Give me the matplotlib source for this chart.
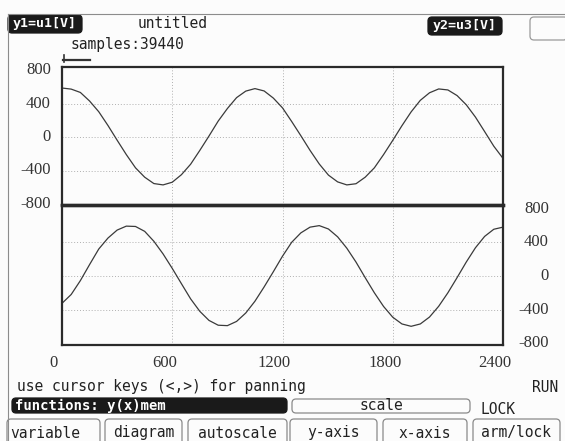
import matplotlib
matplotlib.use("Agg")
import matplotlib.pyplot as plt
from matplotlib.patches import FancyBboxPatch
from matplotlib.transforms import ScaledTranslation

W, H = 565, 441

# samples, one every 50 units on x
t = list(range(0, 2401, 50))
u1 = [585, 572, 532, 430, 302, 138, -38, -210, -368, -480, -556, -572, -540,
      -450, -325, -160, 12, 190, 340, 470, 548, 578, 550, 465, 348, 185, 15,
      -160, -322, -455, -536, -572, -558, -480, -368, -210, -40, 135, 300,
      438, 528, 574, 562, 495, 385, 238, 65, -110, -255]
u3 = [-325, -220, -55, 135, 320, 450, 545, 592, 588, 530, 412, 262, 90, -92,
      -272, -420, -528, -585, -590, -540, -440, -300, -130, 50, 235, 400, 512,
      580, 598, 558, 465, 330, 165, -20, -200, -362, -490, -570, -598, -570,
      -488, -360, -200, -20, 165, 335, 470, 555, 580]

x_ticks = [0, 600, 1200, 1800, 2400]
y_ticks = [-800, -400, 0, 400, 800]

title = "untitled"
samples = "samples:39440"
status = "use cursor keys (<,>) for panning"
buttons = ["variable", "diagram", "autoscale", "y-axis", "x-axis", "arm/lock"]

MONO = "DejaVu Sans Mono"
SERIF = "Liberation Serif"
INK = "#222222"
TRACE = "#3a3a3a"

fig = plt.figure(figsize=(W / 100, H / 100), dpi=100, facecolor="#fcfcfc")

# screen overlay in pixel coordinates
ui = fig.add_axes([0, 0, 1, 1], zorder=0)
ui.set_xlim(0, W)
ui.set_ylim(H, 0)
ui.axis("off")


def box(x0, y0, x1, y1, fill=None, edge="#8a8a8a", r=4):
    p = FancyBboxPatch((x0, y0), x1 - x0, y1 - y0,
                       boxstyle=f"round,pad=0,rounding_size={r}",
                       fc=fill if fill else "none",
                       ec=fill if fill else edge, lw=0.9)
    ui.add_patch(p)


def txt(x, y, s, ha="left", color=INK, size=10.5, **kw):
    ui.text(x, y, s, ha=ha, va="center", color=color, fontsize=size,
            family=MONO, **kw)


# screen border lines
ui.plot([7.5, W], [13.5, 13.5], color="#8c8c8c", lw=0.8)
ui.plot([7.5, 7.5], [13.5, H], color="#8c8c8c", lw=0.8)

# header
box(8, 15, 82, 33, fill="#1a1a1a")
txt(45, 24, "y1=u1[V]", ha="center", color="white", weight="bold", size=9.5)
txt(173, 24, title, ha="center")
box(428, 17, 502, 35, fill="#1a1a1a")
txt(465, 26, "y2=u3[V]", ha="center", color="white", weight="bold", size=9.5)
box(530, 17, 568, 40, edge="#9a9a9a")
txt(70, 45, samples)
ui.plot([63, 90], [60, 60], color="#333", lw=1.6)
ui.plot([63.5, 63.5], [55, 62], color="#333", lw=1.2)

# footer
txt(17, 387, status)
txt(558, 388, "RUN", ha="right")
box(12, 398, 287, 413, fill="#1a1a1a")
txt(15, 405.5, "functions: y(x)mem", color="white", weight="bold", size=10)
box(292, 399, 470, 413)
txt(381, 406, "scale", ha="center")
txt(480, 409, "LOCK")
edges = [(7, 100), (105, 182), (188, 287), (290, 377), (383, 467), (473, 560)]
for (a, b), name in zip(edges, buttons):
    box(a, 419, b, 450)
    if name == "variable":
        txt(a + 3, 433, name)
    else:
        txt((a + b) / 2, 433, name, ha="center")

# the two diagrams
ax1 = fig.add_axes([62 / W, 1 - 205 / H, 441 / W, 138 / H], zorder=2)
ax2 = fig.add_axes([62 / W, 1 - 345 / H, 441 / W, 140 / H], zorder=2)

for ax, y, lim in ((ax1, u1, (-812, 836)), (ax2, u3, (-820, 843))):
    ax.set_facecolor("none")
    ax.plot(t, y, color=TRACE, lw=0.9)
    ax.set_xlim(0, 2400)
    ax.set_ylim(*lim)
    for v in y_ticks[1:-1]:
        ax.axhline(v, color="#b0b0b0", lw=0.7, ls=(0, (1, 2)), zorder=0)
    for v in x_ticks[1:-1]:
        ax.axvline(v, color="#b0b0b0", lw=0.7, ls=(0, (1, 2)), zorder=0)
    for s in ax.spines.values():
        s.set_color("#2a2a2a")
        s.set_linewidth(1.6)
    ax.set_yticks(y_ticks)
    ax.set_yticklabels([str(v) for v in y_ticks])
    ax.tick_params(length=0, labelsize=12, colors="#333333")

ax1.spines["bottom"].set_linewidth(2.4)
ax2.spines["top"].set_linewidth(2.4)

ax1.set_xticks([])
ax1.tick_params(axis="y", pad=8)

# right-hand labels end about 46 px right of the frame
ax2.yaxis.tick_right()
ax2.tick_params(axis="y", pad=33)
for lbl in ax2.get_yticklabels():
    lbl.set_ha("right")

ax2.set_xticks(x_ticks)
ax2.set_xticklabels([str(v) for v in x_ticks])
ax2.tick_params(axis="x", pad=7)

shift_up = ScaledTranslation(0, 0.02, fig.dpi_scale_trans)
shift_left = ScaledTranslation(-0.08, 0, fig.dpi_scale_trans)
for ax in (ax1, ax2):
    for lbl in ax.get_yticklabels() + ax.get_xticklabels():
        lbl.set_family(SERIF)
    for lbl in ax.get_yticklabels():
        lbl.set_transform(lbl.get_transform() + shift_up)
for lbl in ax2.get_xticklabels():
    lbl.set_transform(lbl.get_transform() + shift_left)

fig.savefig("out.png", dpi=100, facecolor=fig.get_facecolor())
